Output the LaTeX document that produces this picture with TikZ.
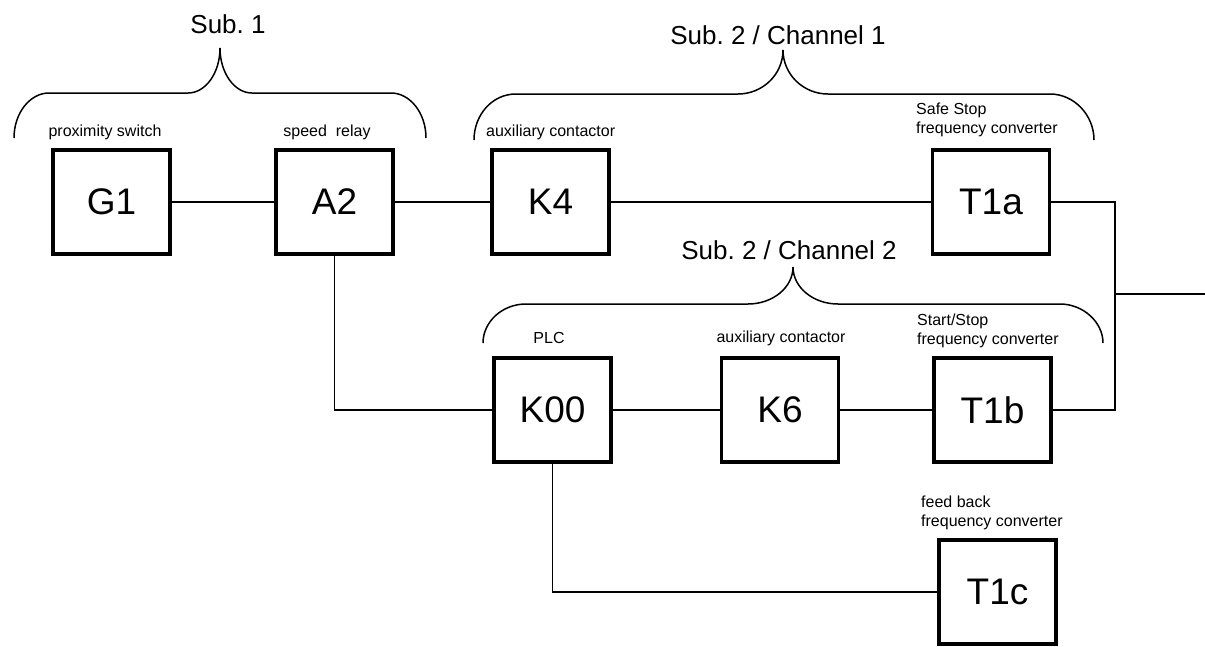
\documentclass[tikz,border=0pt]{standalone}
\usepackage{fontspec}
\setmainfont{Liberation Sans}
\begin{document}
\frenchspacing
\begin{tikzpicture}[x=1pt,y=-1pt,
  blk/.style={draw,line width=3.5pt,minimum width=117pt,minimum height=104pt,inner sep=0pt,font=\fontsize{37}{40}\selectfont},
  wire/.style={line width=1.5pt},
  brc/.style={line width=1.5pt},
  lbl/.style={inner sep=0pt,font=\fontsize{16}{19}\selectfont\frenchspacing},
  ttl/.style={inner sep=0pt,font=\fontsize{26}{30}\selectfont\frenchspacing}]
\useasboundingbox (0,0) rectangle (1205,646);
% boxes
\node[blk] (G1) at (111.5,202) {G1};
\node[blk] (A2) at (334.5,202) {A2};
\node[blk] (K4) at (550.5,202) {K4};
\node[blk] (T1a) at (991,202) {T1a};
\node[blk] (K00) at (552.5,410) {K00};
\node[blk] (K6) at (780,410) {K6};
\node[blk] (T1b) at (992.5,410) {T1b};
\node[blk] (T1c) at (997.5,592) {T1c};
% labels
\node[lbl,anchor=base] (lG1) at (105,136) {proximity switch};
\node[lbl,anchor=base] (lA2) at (327,136) {speed\ \ relay};
\node[lbl,anchor=base west] (lK4) at (486,136) {auxiliary contactor};
\node[lbl,anchor=base west,align=left] (lT1a) at (916,133) {Safe Stop\\frequency converter};
\node[lbl,anchor=base] (lK00) at (549,343) {PLC};
\node[lbl,anchor=base] (lK6) at (781,342) {auxiliary contactor};
\node[lbl,anchor=base west,align=left] (lT1b) at (917,344) {Start/Stop\\frequency converter};
\node[lbl,anchor=base west,align=left] (lT1c) at (921,526) {feed back\\frequency converter};
\node[ttl,anchor=base] (s1) at (228,33) {Sub. 1};
\node[ttl,anchor=base] (s21) at (778,44) {Sub. 2 / Channel 1};
\node[ttl,anchor=base] (s22) at (789,259) {Sub. 2 / Channel 2};
% braces
\draw[brc] (14,138) .. controls (14,113) and (30,93) .. (49,93) -- (188,93)
  .. controls (205.7,93) and (220,72.8) .. (220,48)
  .. controls (220,72.8) and (234.3,93) .. (252,93) -- (391,93)
  .. controls (410,93) and (426,113) .. (426,138);
\draw[brc] (474,140) .. controls (474,115) and (492,94) .. (516,94) -- (738,94)
  .. controls (762.8,94) and (783,74.3) .. (783,50)
  .. controls (783,74.3) and (803.2,94) .. (828,94) -- (1050,94)
  .. controls (1074,94) and (1094,115) .. (1094,140);
\draw[brc] (483,343) .. controls (483,322) and (502,304) .. (526,304) -- (748,304)
  .. controls (772.8,304) and (793,287.4) .. (793,267)
  .. controls (793,287.4) and (813.2,304) .. (838,304) -- (1060,304)
  .. controls (1083,304) and (1103,322) .. (1103,343);
% connectors
\coordinate (jt) at (1115,202);
\coordinate (jb) at (1115,410);
\coordinate (jm) at (1115,294);
\coordinate (out) at (1205,294);
\draw[wire] (G1) -- (A2);
\draw[wire] (A2) -- (K4);
\draw[wire] (K4) -- (T1a);
\draw[wire] (T1a.east) -- (jt) -- (jb) -- (T1b.east);
\draw[wire] (jm) -- (out);
\draw[wire] (A2.south) |- (K00.west);
\draw[wire] (K00) -- (K6);
\draw[wire] (K6) -- (T1b);
\draw[wire] (K00.south) |- (T1c.west);
\end{tikzpicture}
\end{document}
